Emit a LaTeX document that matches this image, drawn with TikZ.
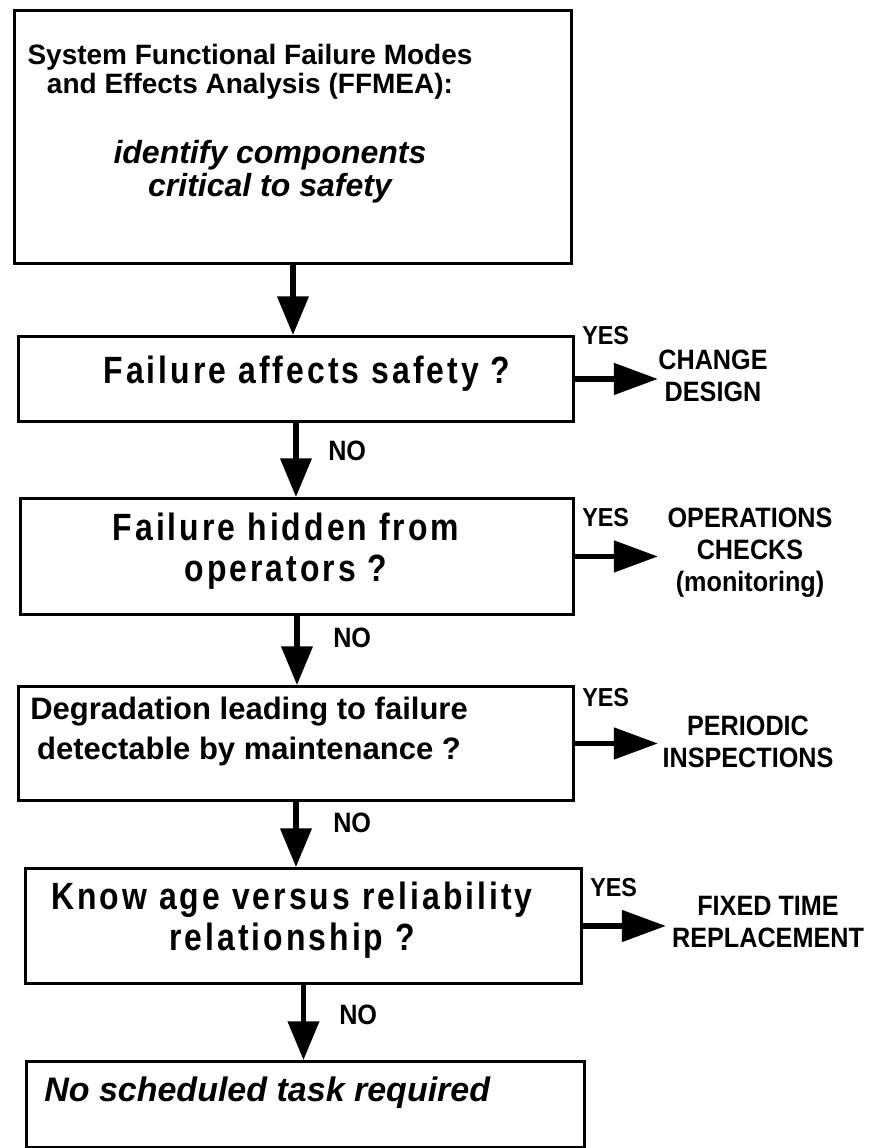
\documentclass[tikz,border=0pt]{standalone}
\usepackage{fontspec}
\setmainfont{Liberation Sans}
\newfontfamily\qfont{Liberation Sans}[FakeStretch=0.84, LetterSpace=8]
\newfontfamily\lblfont{Liberation Sans}[FakeStretch=0.9]
\usetikzlibrary{arrows.meta}
\newcommand{\pxu}{0.75pt}
\tikzset{
  Box/.style    = {draw, line width=2.2pt, anchor=north west, inner sep=0pt},
  Down/.style   = {line width=3.8pt, -{Triangle[length=29pt, width=23pt]}},
  Side/.style   = {line width=4.2pt, -{Triangle[length=33pt, width=23pt]}},
  Head/.style   = {font=\bfseries\fontsize{21}{22}\selectfont, align=center, inner sep=0pt},
  Task/.style   = {font=\bfseries\itshape\fontsize{24}{25}\selectfont, align=center, inner sep=0pt},
  Ques/.style   = {font=\qfont\bfseries\fontsize{28.5}{31}\selectfont, align=center, inner sep=0pt},
  Plain/.style  = {font=\bfseries\fontsize{23.25}{30}\selectfont, align=center, inner sep=0pt},
  Yes/.style    = {font=\lblfont\bfseries\fontsize{19.5}{20}\selectfont, anchor=west, inner sep=0pt},
  No/.style     = {font=\lblfont\bfseries\fontsize{21}{22}\selectfont, anchor=west, inner sep=0pt},
  Out/.style    = {font=\lblfont\bfseries\fontsize{21}{24}\selectfont, align=center, inner sep=0pt},
}

\begin{document}
\begin{tikzpicture}[x=\pxu, y=-\pxu]
\useasboundingbox (0,0) rectangle (870,1148);

% ======================= BOXES ===========================================
\node[Box, minimum width=557*\pxu, minimum height=253*\pxu] (b1) at (13,9) {};
\node[Box, minimum width=555*\pxu, minimum height=85*\pxu]  (b2) at (17,335) {};
\node[Box, minimum width=553*\pxu, minimum height=116*\pxu] (b3) at (19,497) {};
\node[Box, minimum width=555*\pxu, minimum height=114*\pxu] (b4) at (17,685) {};
\node[Box, minimum width=556*\pxu, minimum height=115*\pxu] (b5) at (24,867) {};
\node[Box, minimum width=558*\pxu, minimum height=86*\pxu]  (b6) at (25,1060) {};

% ======================= TEXTS ===========================================
\node[Head]  (t1a) at (250,72)  {System Functional Failure Modes\\and Effects Analysis (FFMEA):};
\node[Task]  (t1b) at (270,172) {identify components\\critical to safety};
\node[Ques]  (t2)  at (307,374) {Failure affects safety ?};
\node[Ques]  (t3)  at (286,551) {Failure hidden from\\operators ?};
\node[Plain] (t4)  at (249,731) {Degradation leading to failure\\detectable by maintenance ?};
\node[Ques]  (t5)  at (292,920) {Know age versus reliability\\relationship ?};
\node[Task, font=\bfseries\itshape\fontsize{25.5}{26}\selectfont, anchor=west]
             (t6)  at (44,1093) {No scheduled task required};

% ======================= ARROWS ==========================================
% NO: straight down to the next box
\foreach \a/\b in {b1/b2, b2/b3, b3/b4, b4/b5, b5/b6}
    \draw[Down] (\a.south) -- (\a.south |- \b.north);
% YES: out to the right
\foreach \i in {2,...,5}
    \draw[Side] (b\i.east) -- ++(83,0);

% ======================= LABELS ==========================================
\foreach \i/\x/\y in {2/582/336, 3/582/518, 4/582/698, 5/590/888}
    \node[Yes] (y\i) at (\x,\y) {YES};
\foreach \i/\x/\y in {3/328/451, 4/333/638, 5/333/823, 6/339/1015}
    \node[No] (n\i) at (\x,\y) {NO};

\node[Out] (o2) at (713,376) {CHANGE\\DESIGN};
\node[Out] (o3) at (750,553) {OPERATIONS\\CHECKS\\(monitoring)};
\node[Out] (o4) at (748,742) {PERIODIC\\INSPECTIONS};
\node[Out] (o5) at (768,922) {FIXED TIME\\REPLACEMENT};

\end{tikzpicture}
\end{document}
